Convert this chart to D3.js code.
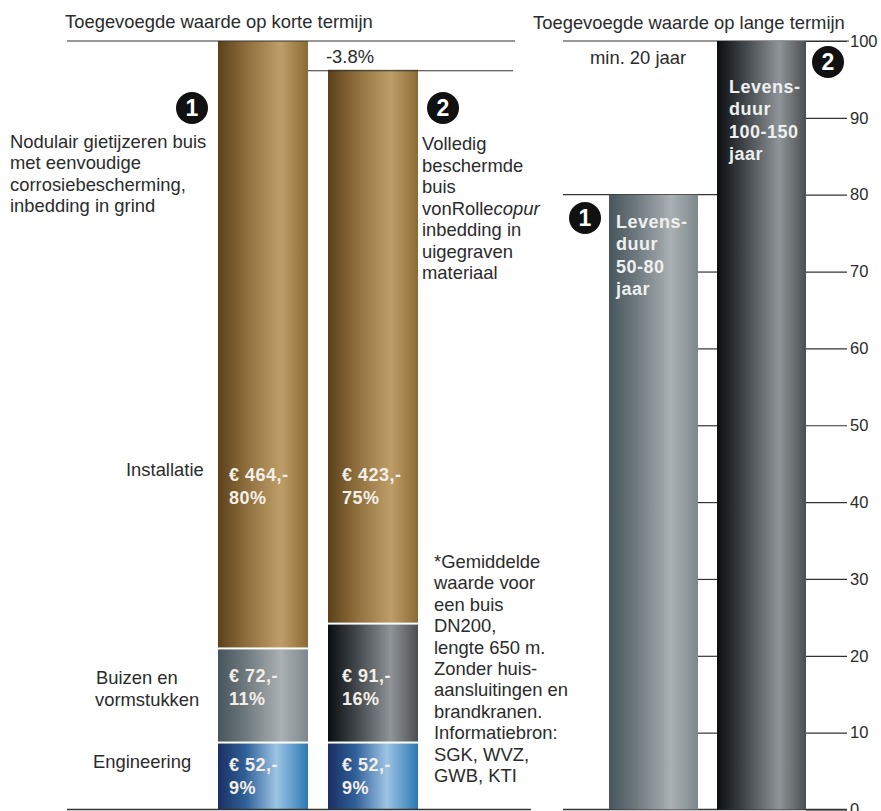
<!DOCTYPE html>
<html>
<head>
<meta charset="utf-8">
<script src="https://cdn.jsdelivr.net/npm/d3@7"></script>
<style>
html, body { margin: 0; padding: 0; background: #fff; }
svg { display: block; font-family: "Liberation Sans", Arial, sans-serif; }
text { fill: #2b2b2b; }
</style>
</head>
<body>
<div id="chart"></div>
<script>
// short term costs, euro per pipe, bottom to top
var pipes = ["1", "2"];
var parts = ["Engineering", "Buizen", "Installatie"];
var euros1 = [52, 72, 464];
var euros2 = [52, 91, 423];
var shares1 = ["9%", "11%", "80%"];
var shares2 = ["9%", "16%", "75%"];
var saving = "-3.8%";

// long term, years
var lifeYears = [80, 100];
var lifeLabels = [["Levens-", "duur", "50-80", "jaar"], ["Levens-", "duur", "100-150", "jaar"]];
var yearTicks = [0, 10, 20, 30, 40, 50, 60, 70, 80, 90, 100];

var width = 881, height = 811;
var yTop = 41, yBase = 809.5;
var fs = 18.4;

var svg = d3.select("#chart").append("svg").attr("width", width).attr("height", height);
var defs = svg.append("defs");

function gradient(id, stops) {
    var g = defs.append("linearGradient").attr("id", id);
    stops.forEach(function(s) {
        g.append("stop").attr("offset", s[0]).attr("stop-color", s[1]);
    });
}
gradient("brown", [[0, "#5c411b"], [0.3, "#8c6c3a"], [0.7, "#be9e68"], [1, "#8c6a34"]]);
gradient("grey", [[0, "#47555c"], [0.3, "#6d787d"], [0.7, "#aab0b3"], [1, "#7d888c"]]);
gradient("dark", [[0, "#0b0e11"], [0.3, "#3e4448"], [0.7, "#8e9497"], [1, "#4c4f51"]]);
gradient("blue", [[0, "#1b2f63"], [0.3, "#2f5f98"], [0.65, "#9dc4e5"], [1, "#2b79b2"]]);

// left part: stacked costs
var yCost = d3.scaleLinear().domain([0, d3.sum(euros1)]).range([yBase, yTop]);
var xCost = d3.scaleBand().domain(pipes).range([218, 418]).paddingInner(20 / 110);

var table = pipes.map(function(p, i) {
    var row = { pipe: p };
    parts.forEach(function(k, j) { row[k] = (i === 0 ? euros1 : euros2)[j]; });
    return row;
});
var stacked = d3.stack().keys(parts)(table);
var fills = { Engineering: ["blue", "blue"], Buizen: ["grey", "dark"], Installatie: ["brown", "brown"] };

stacked.forEach(function(layer, j) {
    layer.forEach(function(d, i) {
        var gap = j === parts.length - 1 ? 0 : 2;
        var top = yCost(d[1]) + gap;
        var bottom = yCost(d[0]);
        svg.append("rect")
            .attr("x", xCost(pipes[i])).attr("width", xCost.bandwidth())
            .attr("y", top)
            .attr("height", bottom - top)
            .attr("fill", "url(#" + fills[layer.key][i] + ")");
    });
});

function lines(x, y, rows, step, size, attrs) {
    var t = svg.append("text").attr("font-size", size);
    for (var k in (attrs || {})) t.attr(k, attrs[k]);
    rows.forEach(function(r, i) {
        t.append("tspan").attr("x", x).attr("y", y + i * step).text(r);
    });
    return t;
}

// white labels inside the segments
var labelY = [[771, 794], [682, 705], [481, 504]];
var labelX = [11, 14];
pipes.forEach(function(p, i) {
    var eur = i === 0 ? euros1 : euros2;
    var sh = i === 0 ? shares1 : shares2;
    parts.forEach(function(k, j) {
        var tx = svg.append("text").attr("font-size", 18).attr("font-weight", "bold")
            .attr("letter-spacing", "0.5px").style("fill", "#f3efe8");
        tx.append("tspan").attr("x", xCost(p) + labelX[i]).attr("y", labelY[j][0]).text("€ " + eur[j] + ",-");
        tx.append("tspan").attr("x", xCost(p) + labelX[i]).attr("y", labelY[j][1]).text(sh[j]);
    });
});

// rules on the left
function rule(x1, x2, y, w) {
    svg.append("line").attr("x1", x1).attr("x2", x2).attr("y1", y).attr("y2", y)
        .attr("stroke", "#333").attr("stroke-width", w || 1.2);
}
rule(67, 515, yTop);
rule(308, 513, yCost(d3.sum(euros2)) + 1);
rule(67, 531, yBase, 1.5);
rule(563, 849, yTop);

svg.append("text").attr("x", 65).attr("y", 28).attr("font-size", fs).text("Toegevoegde waarde op korte termijn");
svg.append("text").attr("x", 533).attr("y", 29).attr("font-size", fs).text("Toegevoegde waarde op lange termijn");
svg.append("text").attr("x", 326).attr("y", 63).attr("font-size", fs).text(saving);

lines(10, 148, ["Nodulair gietijzeren buis", "met eenvoudige", "corrosiebescherming,", "inbedding in grind"], 21.3, fs);
lines(422, 150, ["Volledig", "beschermde", "buis"], 21.5, fs);
var vr = svg.append("text").attr("x", 422).attr("y", 214.5).attr("font-size", fs);
vr.append("tspan").text("vonRolle");
vr.append("tspan").attr("font-style", "italic").text("copur");
lines(422, 236, ["inbedding in", "uigegraven", "materiaal"], 21.5, fs);

svg.append("text").attr("x", 126).attr("y", 476).attr("font-size", fs).text("Installatie");
lines(96, 684, ["Buizen en"], 21, fs);
lines(95, 706, ["vormstukken"], 21, fs);
svg.append("text").attr("x", 93).attr("y", 768).attr("font-size", fs).text("Engineering");

lines(434, 568, ["*Gemiddelde", "waarde voor", "een buis", "DN200,", "lengte 650 m.", "Zonder huis-", "aansluitingen en", "brandkranen.", "Informatiebron:", "SGK, WVZ,", "GWB, KTI"], 21.4, fs);

// right part: service life
var yLife = d3.scaleLinear().domain([0, 100]).range([yBase, yTop]);
var xLife = d3.scaleBand().domain(pipes).range([609, 806]).paddingInner(19 / 108);

rule(563, 717, yLife(lifeYears[0]));
rule(563, 847, yBase, 1.5);

var axisRight = d3.axisRight(yLife).tickValues(yearTicks).tickSize(41).tickPadding(3);
var axisG = svg.append("g").attr("transform", "translate(806,0)").call(axisRight);
axisG.select(".domain").remove();
axisG.selectAll("line").attr("stroke", "#333").attr("stroke-width", 1.2);
axisG.selectAll("text").attr("font-size", 16.5).attr("font-family", "Liberation Sans").style("fill", "#2b2b2b");

var axisMid = d3.axisRight(yLife).tickValues(yearTicks.slice(1, 8)).tickSize(19).tickFormat("");
var midG = svg.append("g").attr("transform", "translate(698,0)").call(axisMid);
midG.select(".domain").remove();
midG.selectAll("line").attr("stroke", "#333").attr("stroke-width", 1.2);

svg.selectAll(".life").data(lifeYears).enter().append("rect")
    .attr("class", "life")
    .attr("x", function(d, i) { return xLife(pipes[i]); })
    .attr("width", xLife.bandwidth())
    .attr("y", function(d) { return yLife(d); })
    .attr("height", function(d) { return yLife(0) - yLife(d); })
    .attr("fill", function(d, i) { return i === 0 ? "url(#grey)" : "url(#dark)"; });

lifeLabels.forEach(function(rows, i) {
    lines(xLife(pipes[i]) + (i === 0 ? 7 : 12), yLife(lifeYears[i]) + (i === 0 ? 33 : 52), rows, 22.4, 18,
        { "font-weight": "bold", "letter-spacing": "0.5px" }).style("fill", "#eef0f0");
});

svg.append("text").attr("x", 590).attr("y", 64).attr("font-size", fs).text("min. 20 jaar");

// numbered badges
function badge(x, y, label) {
    svg.append("circle").attr("cx", x).attr("cy", y).attr("r", 16).attr("fill", "#111");
    svg.append("text").attr("x", x).attr("y", y + 8).attr("text-anchor", "middle")
        .attr("font-size", 23).attr("font-weight", "bold").style("fill", "#fff").text(label);
}
badge(192, 108, pipes[0]);
badge(443, 108, pipes[1]);
badge(585, 218, pipes[0]);
badge(828, 62, pipes[1]);
</script>
</body>
</html>
